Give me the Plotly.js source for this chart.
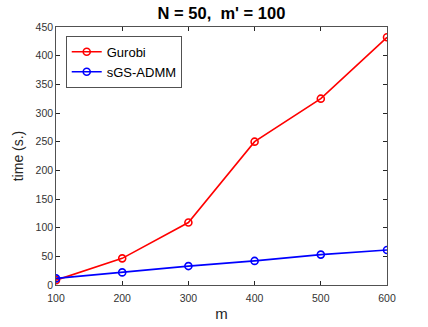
<!DOCTYPE html>
<html>
<head>
<meta charset="utf-8">
<script src="https://cdn.plot.ly/plotly-3.0.1.min.js"></script>
<style>
  html, body { margin: 0; padding: 0; background: white; }
  #chart { width: 428px; height: 327px; }
</style>
</head>
<body>
<div id="chart"></div>
<script>
var m = [100, 200, 300, 400, 500, 600]
var gurobi = [8.5, 46.5, 109, 250, 325, 432]
var sgsadmm = [11.5, 22, 33, 42, 53, 61]
var xTicks = [100, 200, 300, 400, 500, 600]
var yTicks = [0, 50, 100, 150, 200, 250, 300, 350, 400, 450]

function series(name, y, color) {
    return {
        x: m,
        y: y,
        name: name,
        type: 'scatter',
        mode: 'lines+markers',
        line: {color: color, width: 1.6},
        marker: {symbol: 'circle-open', size: 7, color: color, line: {color: color, width: 1.6}}
    }
}

var data = [
    series('Gurobi', gurobi, '#ff0000'),
    series('sGS-ADMM', sgsadmm, '#0000ff')
]

var axisStyle = {
    showline: true,
    mirror: 'ticks',
    linecolor: '#262626',
    linewidth: 0.8,
    ticks: 'inside',
    ticklen: 4,
    tickcolor: '#262626',
    showgrid: false,
    zeroline: false,
    tickfont: {family: 'Liberation Sans, Arial, sans-serif', size: 10.5, color: '#333333'}
}

var layout = {
    width: 428,
    height: 327,
    margin: {l: 56, r: 41, t: 27, b: 42},
    paper_bgcolor: 'white',
    plot_bgcolor: 'white',
    font: {family: 'Liberation Sans, Arial, sans-serif', color: '#262626'},
    title: {
        text: '<b>N = 50,  m\' = 100</b>',
        font: {size: 16.5, color: '#000000'},
        x: 0.5, xref: 'paper', xanchor: 'center',
        y: 1, yref: 'container', yanchor: 'top', pad: {t: 7}
    },
    xaxis: Object.assign({}, axisStyle, {
        range: [100, 600],
        tickvals: xTicks,
        ticklabelstandoff: 4,
        title: {text: 'm', font: {size: 15, color: '#262626'}, standoff: 4}
    }),
    yaxis: Object.assign({}, axisStyle, {
        range: [0, 450],
        tickvals: yTicks,
        title: {text: 'time (s.)', font: {size: 14, color: '#262626'}, standoff: 8}
    }),
    showlegend: true,
    legend: {
        x: 0.03, y: 0.965, xanchor: 'left', yanchor: 'top',
        bgcolor: 'white',
        bordercolor: '#262626',
        borderwidth: 0.8,
        font: {size: 13, color: '#000000'},
        itemwidth: 30,
        tracegroupgap: 2
    }
}

Plotly.newPlot('chart', data, layout, {staticPlot: true, displayModeBar: false})
</script>
</body>
</html>
